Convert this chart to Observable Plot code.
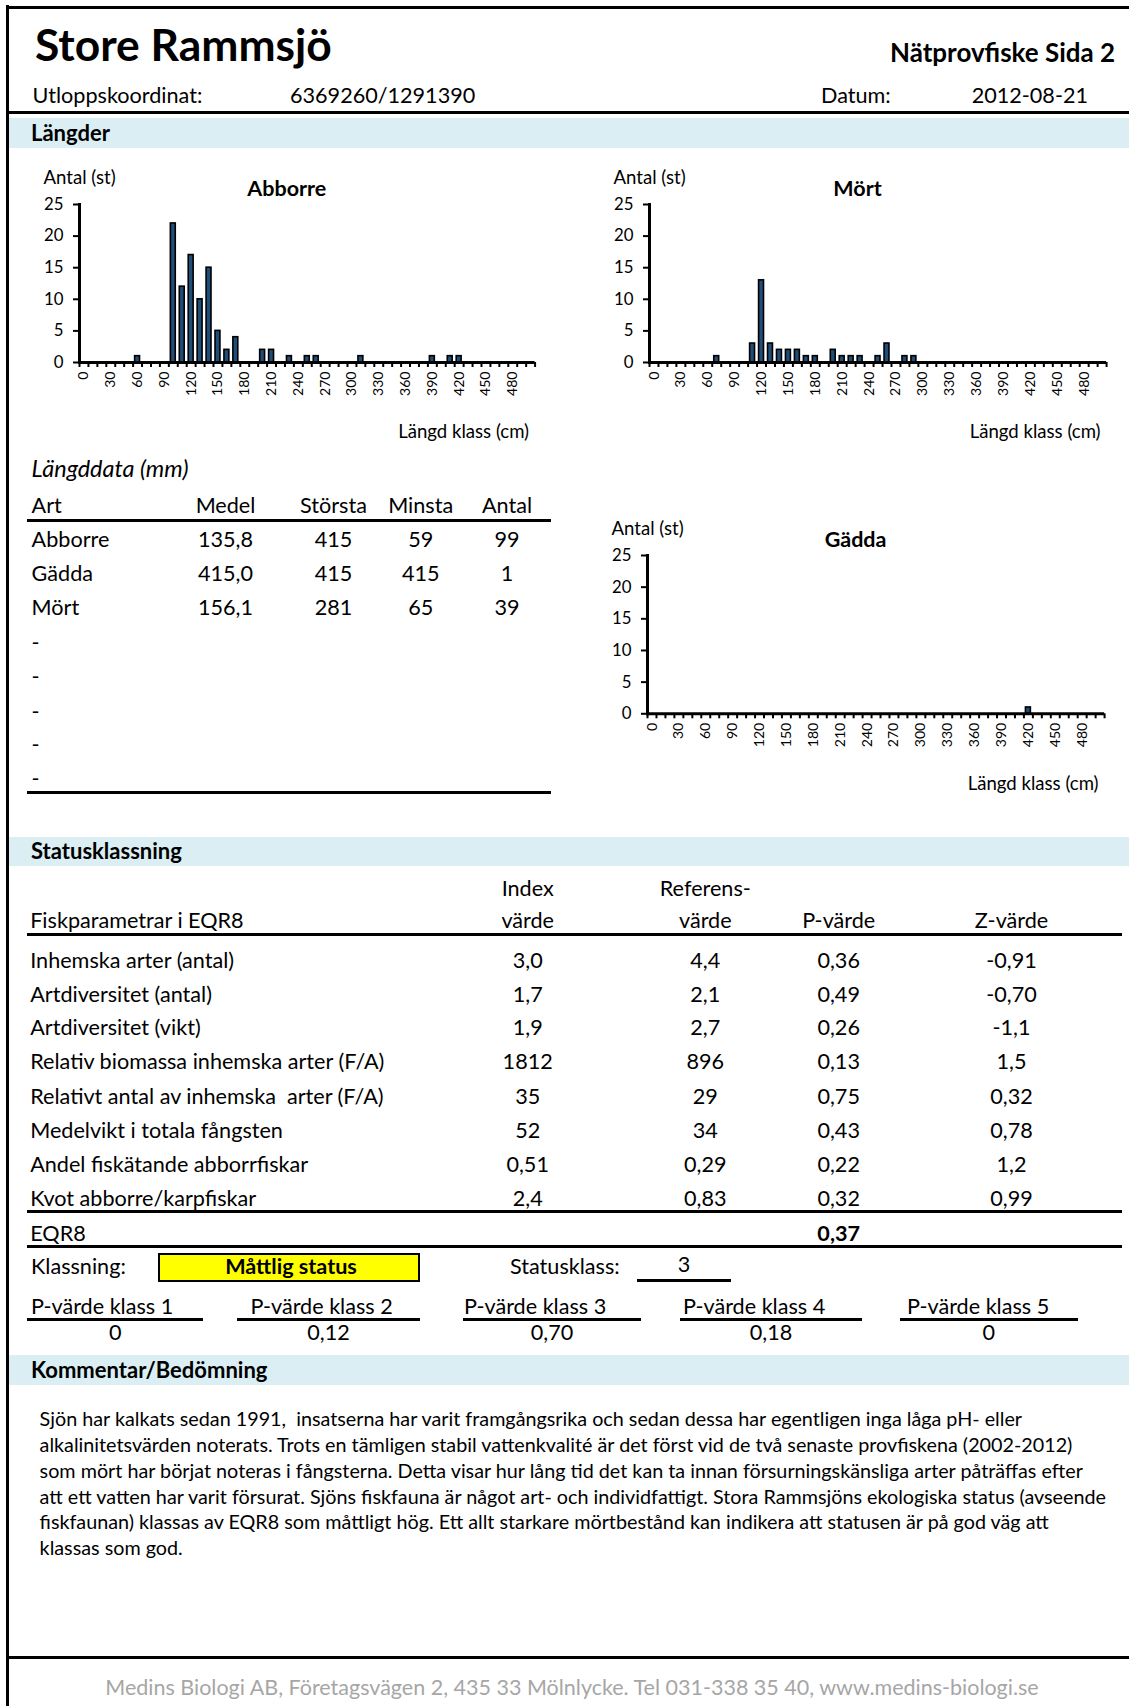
<!DOCTYPE html>
<html><head><meta charset="utf-8">
<script src="https://cdn.jsdelivr.net/npm/d3@7"></script>
<script src="https://cdn.jsdelivr.net/npm/@observablehq/plot@0.6"></script>
<style>
html,body{margin:0;padding:0;background:#fff;}
#page{position:relative;width:1129px;height:1706px;overflow:hidden;font-family:Lato,"Open Sans",sans-serif;color:#000;}
.t{position:absolute;white-space:nowrap;line-height:1.2;}
.r{position:absolute;background:#000;}
.band{position:absolute;background:#daeef3;}
.chart{position:absolute;}
</style></head><body><div id="page"></div>
<script>
// ---------------- DATA ----------------
const lengthClasses = [0,10,20,30,40,50,60,70,80,90,100,110,120,130,140,150,160,170,180,190,200,210,220,230,240,250,260,270,280,290,300,310,320,330,340,350,360,370,380,390,400,410,420,430,440,450,460,470,480,490,500];
const xTickLabels = [0,30,60,90,120,150,180,210,240,270,300,330,360,390,420,450,480];
const yTicks = [0,5,10,15,20,25];

const abborreClass = [60,100,110,120,130,140,150,160,170,200,210,230,250,260,310,390,410,420];
const abborreCount = [1,22,12,17,10,15,5,2,4,2,2,1,1,1,1,1,1,1];
const mortClass = [70,110,120,130,140,150,160,170,180,200,210,220,230,250,260,280,290];
const mortCount = [1,3,13,3,2,2,2,1,1,2,1,1,1,1,3,1,1];
const gaddaClass = [420];
const gaddaCount = [1];

const lakeName = "Store Rammsjö";
const pageTitle = "Nätprovfiske Sida 2";
const coordinate = "6369260/1291390";
const dateText = "2012-08-21";

const lenHeaders = ["Art","Medel","Största","Minsta","Antal"];
const lenSpecies = ["Abborre","Gädda","Mört","-","-","-","-","-"];
const lenMedel   = ["135,8","415,0","156,1","","","","",""];
const lenStorsta = ["415","415","281","","","","",""];
const lenMinsta  = ["59","415","65","","","","",""];
const lenAntal   = ["99","1","39","","","","",""];

const params = ["Inhemska arter (antal)","Artdiversitet (antal)","Artdiversitet (vikt)","Relativ biomassa inhemska arter (F/A)","Relativt antal av inhemska  arter (F/A)","Medelvikt i totala fångsten","Andel fiskätande abborrfiskar","Kvot abborre/karpfiskar"];
const indexValues = ["3,0","1,7","1,9","1812","35","52","0,51","2,4"];
const refValues   = ["4,4","2,1","2,7","896","29","34","0,29","0,83"];
const pValues     = ["0,36","0,49","0,26","0,13","0,75","0,43","0,22","0,32"];
const zValues     = ["-0,91","-0,70","-1,1","1,5","0,32","0,78","1,2","0,99"];
const eqr8 = "0,37";
const klassning = "Måttlig status";
const statusklass = "3";
const pKlassLabels = ["P-värde klass 1","P-värde klass 2","P-värde klass 3","P-värde klass 4","P-värde klass 5"];
const pKlassValues = ["0","0,12","0,70","0,18","0"];

const commentLines = [
"Sjön har kalkats sedan 1991,  insatserna har varit framgångsrika och sedan dessa har egentligen inga låga pH- eller",
"alkalinitetsvärden noterats. Trots en tämligen stabil vattenkvalité är det först vid de två senaste provfiskena (2002-2012)",
"som mört har börjat noteras i fångsterna. Detta visar hur lång tid det kan ta innan försurningskänsliga arter påträffas efter",
"att ett vatten har varit försurat. Sjöns fiskfauna är något art- och individfattigt. Stora Rammsjöns ekologiska status (avseende",
"fiskfaunan) klassas av EQR8 som måttligt hög. Ett allt starkare mörtbestånd kan indikera att statusen är på god väg att",
"klassas som god."];
const footer = "Medins Biologi AB, Företagsvägen 2, 435 33 Mölnlycke. Tel 031-338 35 40, www.medins-biologi.se";

// ---------------- HELPERS ----------------
const FONT = 'Lato, "Open Sans", sans-serif';
const page = document.getElementById("page");
const ctx = document.createElement("canvas").getContext("2d");
function fit(text, w, style = "") {
  ctx.font = `${style} 100px ${FONT}`;
  return 100 * w / ctx.measureText(text).width;
}
function put(text, x, y, size, opt = {}) {
  const d = document.createElement("div");
  d.className = "t";
  d.textContent = text;
  d.style.whiteSpace = "pre";
  d.style.fontSize = size + "px";
  if (opt.bold) d.style.fontWeight = "bold";
  if (opt.italic) d.style.fontStyle = "italic";
  if (opt.color) d.style.color = opt.color;
  d.style.left = x + "px";
  d.style.top = y + "px";
  const tx = opt.anchor === "middle" ? "-50%" : opt.anchor === "end" ? "-100%" : "0";
  d.style.transform = `translate(${tx},-50%)`;
  page.appendChild(d);
  return d;
}
function hline(x1, x2, y, th = 3) {
  const d = document.createElement("div");
  d.className = "r";
  Object.assign(d.style, {left: x1 + "px", top: (y - th / 2) + "px", width: (x2 - x1) + "px", height: th + "px"});
  page.appendChild(d);
}
function vline(x, y1, y2, th = 3) {
  const d = document.createElement("div");
  d.className = "r";
  Object.assign(d.style, {left: (x - th / 2) + "px", top: y1 + "px", width: th + "px", height: (y2 - y1) + "px"});
  page.appendChild(d);
}
function band(y1, y2, label, size) {
  const d = document.createElement("div");
  d.className = "band";
  Object.assign(d.style, {left: "9px", top: y1 + "px", width: "1120px", height: (y2 - y1) + "px"});
  page.appendChild(d);
  put(label, 31, (y1 + y2) / 2, size, {bold: true});
}

// font sizes calibrated to reference text widths
const SZ_TITLE = fit(lakeName, 297, "bold");
const SZ_SUB = fit(pageTitle, 225, "bold");
const SZ_BODY = fit("Fiskparametrar i EQR8", 214);
const SZ_BOLD = fit("Statusklassning", 151, "bold");
const SZ_IT = fit("Längddata (mm)", 157, "italic");
const SZ_COMMENT = fit(commentLines[3], 1069);
const SZ_FOOT = fit(footer, 936);
const SZ_YT = fit("25", 19.5);
const SZ_XT = fit("480", 24.5);
const SZ_LAB = fit("Längd klass (cm)", 131);
const SZ_CT = fit("Abborre", 79, "bold");

// ---------------- PAGE FRAME ----------------
hline(6, 1129, 7, 3);
vline(7.5, 5, 1706, 3);
put(lakeName, 35, 44, SZ_TITLE, {bold: true});
put(pageTitle, 1115, 53, SZ_SUB, {bold: true, anchor: "end"});
put("Utloppskoordinat:", 32.6, 96, SZ_BODY);
put(coordinate, 290, 96, SZ_BODY);
put("Datum:", 821, 96, SZ_BODY);
put(dateText, 1088, 96, SZ_BODY, {anchor: "end"});
hline(6, 1129, 112, 3);
band(118, 148, "Längder", SZ_BOLD);

// ---------------- HISTOGRAMS ----------------
function histogram(classes, counts, title, fx1, fx2, fy1, fy2) {
  const ml = 60, mr = 25, mt = 55, mb = 95;
  const width = (fx2 - fx1) + ml + mr;
  const height = (fy2 - fy1) + mt + mb;
  const step = (fx2 - fx1) / lengthClasses.length;
  const data = classes.map((c, i) => ({len: c, n: counts[i]}));
  const svg = Plot.plot({
    width, height, marginLeft: ml, marginRight: mr, marginTop: mt, marginBottom: mb,
    style: {fontFamily: FONT, color: "#000", background: "transparent", overflow: "visible"},
    x: {type: "band", domain: lengthClasses, paddingInner: 0.45, paddingOuter: 0.225, label: null, axis: null},
    y: {domain: [0, 25], label: null, axis: null},
    marks: [
      Plot.barY(data, {x: "len", y: "n", fill: "#1f4e79", stroke: "#000", strokeWidth: 1.6}),
      Plot.axisY(yTicks, {tickSize: 6, tickPadding: 10, fontSize: SZ_YT, strokeWidth: 2, label: null}),
      Plot.axisX(xTickLabels, {tickSize: 0, tickRotate: -90, tickPadding: 9, fontSize: SZ_XT, label: null}),
      Plot.axisX(lengthClasses, {tickSize: 5, tickFormat: () => "", dx: -step / 2, strokeWidth: 2, label: null}),
      Plot.axisX([lengthClasses[lengthClasses.length - 1]], {tickSize: 5, tickFormat: () => "", dx: step / 2, strokeWidth: 2, label: null}),
      Plot.ruleY([0], {strokeWidth: 3}),
      Plot.frame({anchor: "left", strokeWidth: 3}),
      Plot.text(["Antal (st)"], {text: d => d, frameAnchor: "top-left", textAnchor: "start", lineAnchor: "middle", dx: -36, dy: -26, fontSize: SZ_LAB}),
      Plot.text([title], {text: d => d, frameAnchor: "top", lineAnchor: "middle", dx: -20.5, dy: -15.5, fontSize: SZ_CT, fontWeight: "bold"}),
      Plot.text(["Längd klass (cm)"], {text: d => d, frameAnchor: "bottom-right", textAnchor: "end", lineAnchor: "middle", dx: -6, dy: 70, fontSize: SZ_LAB})
    ]
  });
  svg.classList.add("chart");
  svg.style.left = (fx1 - ml) + "px";
  svg.style.top = (fy1 - mt) + "px";
  page.appendChild(svg);
}
histogram(abborreClass, abborreCount, "Abborre", 78.7, 534.3, 204, 362);
histogram(mortClass, mortCount, "Mört", 648.9, 1106, 204, 362);
histogram(gaddaClass, gaddaCount, "Gädda", 646.6, 1103.7, 554.7, 713);

// ---------------- LÄNGDDATA TABLE ----------------
put("Längddata (mm)", 31.6, 468, SZ_IT, {italic: true});
const lenColX = [31.6, 225.5, 333.5, 420.7, 507];
put(lenHeaders[0], lenColX[0], 505.7, SZ_BODY);
for (let c = 1; c < 5; c++) put(lenHeaders[c], lenColX[c], 505.7, SZ_BODY, {anchor: "middle"});
hline(27, 551, 520, 3);
const lenRowY = [540, 574.3, 608.3, 643.3, 677.3, 711.7, 745, 779.3];
lenSpecies.forEach((s, i) => {
  const y = lenRowY[i];
  put(s, lenColX[0], y, SZ_BODY);
  [lenMedel, lenStorsta, lenMinsta, lenAntal].forEach((col, c) => {
    if (col[i]) put(col[i], lenColX[c + 1], y, SZ_BODY, {anchor: "middle"});
  });
});
hline(27, 551, 792, 3);

// ---------------- STATUSKLASSNING ----------------
band(836.7, 865.7, "Statusklassning", SZ_BOLD);
const stColX = [30.2, 527.7, 705.3, 838.7, 1011.5];
put("Index", stColX[1], 889, SZ_BODY, {anchor: "middle"});
put("Referens-", stColX[2], 889, SZ_BODY, {anchor: "middle"});
put("Fiskparametrar i EQR8", stColX[0], 920.7, SZ_BODY);
put("värde", stColX[1], 920.7, SZ_BODY, {anchor: "middle"});
put("värde", stColX[2], 920.7, SZ_BODY, {anchor: "middle"});
put("P-värde", stColX[3], 920.7, SZ_BODY, {anchor: "middle"});
put("Z-värde", stColX[4], 920.7, SZ_BODY, {anchor: "middle"});
hline(27.4, 1121.7, 934.3, 3);
const stRowY = [960.7, 995, 1028.3, 1062.3, 1096.7, 1130.7, 1165, 1199.3];
params.forEach((p, i) => {
  const y = stRowY[i];
  put(p, stColX[0], y, SZ_BODY);
  put(indexValues[i], stColX[1], y, SZ_BODY, {anchor: "middle"});
  put(refValues[i], stColX[2], y, SZ_BODY, {anchor: "middle"});
  put(pValues[i], stColX[3], y, SZ_BODY, {anchor: "middle"});
  put(zValues[i], stColX[4], y, SZ_BODY, {anchor: "middle"});
});
hline(27.4, 1121.7, 1211.7, 3);
put("EQR8", stColX[0], 1234, SZ_BODY);
put(eqr8, stColX[3], 1234, SZ_BODY, {anchor: "middle", bold: true});
hline(27.4, 1121.7, 1246, 3);

put("Klassning:", 31, 1266.7, SZ_BODY);
const box = document.createElement("div");
Object.assign(box.style, {position: "absolute", left: "158.4px", top: "1252.7px", width: "261.3px", height: "29px", background: "#ffff00", border: "2px solid #000", boxSizing: "border-box"});
page.appendChild(box);
put(klassning, 291, 1266.5, SZ_BODY, {anchor: "middle", bold: true});
put("Statusklass:", 510, 1266.7, SZ_BODY);
put(statusklass, 684, 1265, SZ_BODY, {anchor: "middle"});
hline(637, 731, 1280.7, 2.5);

const pkLines = [[27.4, 203], [237, 420], [463, 641], [680, 862], [900, 1077.7]];
const pkLabelX = [31, 250.5, 464, 683, 907];
pKlassLabels.forEach((l, i) => {
  put(l, pkLabelX[i], 1306.7, SZ_BODY);
  hline(pkLines[i][0], pkLines[i][1], 1319.3, 3);
  put(pKlassValues[i], (pkLines[i][0] + pkLines[i][1]) / 2, 1332.7, SZ_BODY, {anchor: "middle"});
});

// ---------------- KOMMENTAR ----------------
band(1355, 1385, "Kommentar/Bedömning", SZ_BOLD);
const cY = [1419, 1445, 1470.7, 1496.7, 1522.3, 1548.3];
commentLines.forEach((l, i) => put(l, 39.6, cY[i], SZ_COMMENT));

hline(9, 1129, 1657.7, 3.5);
put(footer, 572, 1687.7, SZ_FOOT, {anchor: "middle", color: "#a6a6a6"});
</script></body></html>
